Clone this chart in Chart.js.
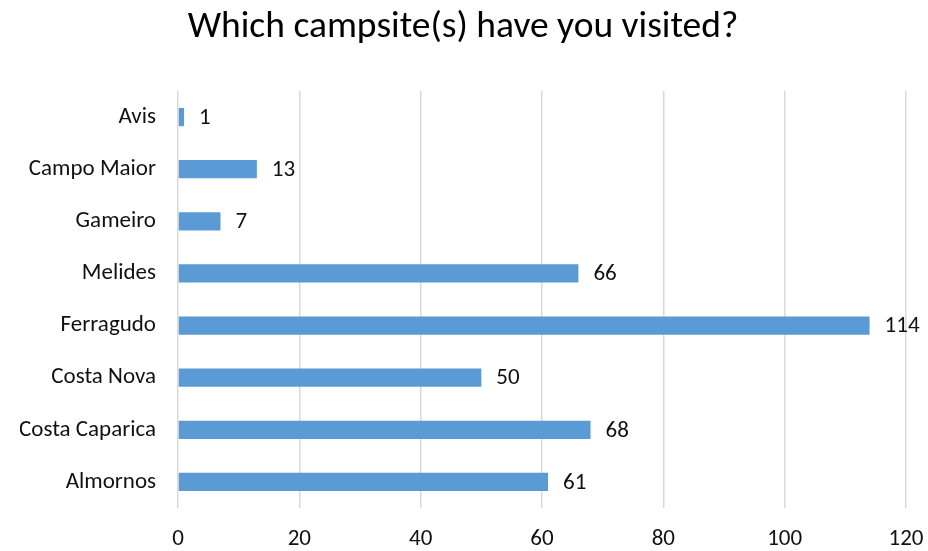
<!DOCTYPE html>
<html>
<head>
<meta charset="utf-8">
<script src="https://cdn.jsdelivr.net/npm/chart.js@4/dist/chart.umd.min.js"></script>
<style>
  html, body { margin: 0; padding: 0; background: #fff; }
  #wrap { width: 928px; height: 551px; }
</style>
</head>
<body>
<div id="wrap"><canvas id="campsites" width="928" height="551"></canvas></div>
<script>
var campsites = ["Avis", "Campo Maior", "Gameiro", "Melides", "Ferragudo", "Costa Nova", "Costa Caparica", "Almornos"];
var visits = [1, 13, 7, 66, 114, 50, 68, 61];
var xTicks = [0, 20, 40, 60, 80, 100, 120];

var fontFamily = "Carlito, Lato, 'Open Sans', sans-serif";

// etiquetas con el valor al final de cada barra
var valueLabels = {
  id: "valueLabels",
  afterDatasetsDraw: function(chart) {
    var ctx = chart.ctx;
    var meta = chart.getDatasetMeta(0);
    ctx.save();
    ctx.font = "23px " + fontFamily;
    ctx.fillStyle = "#111";
    ctx.textAlign = "left";
    ctx.textBaseline = "middle";
    for (var i = 0; i < meta.data.length; i++) {
      var bar = meta.data[i];
      ctx.fillText(visits[i], bar.x + 15, bar.y + 1);
    }
    ctx.restore();
  }
};

var config = {
  type: "bar",
  data: {
    labels: campsites,
    datasets: [{
      data: visits,
      backgroundColor: "#5B9BD5",
      barPercentage: 0.35,
      categoryPercentage: 1.0
    }]
  },
  options: {
    indexAxis: "y",
    responsive: false,
    animation: false,
    layout: { padding: { left: 20, right: 22, top: 0, bottom: 0 } },
    plugins: {
      legend: { display: false },
      tooltip: { enabled: false },
      title: {
        display: true,
        text: "Which campsite(s) have you visited?",
        color: "#000",
        font: { family: fontFamily, size: 37.5, weight: "normal" },
        padding: { top: 5, bottom: 41 }
      }
    },
    scales: {
      x: {
        min: 0,
        max: 120,
        afterBuildTicks: function(scale) {
          scale.ticks = xTicks.map(function(v) { return { value: v }; });
        },
        afterFit: function(scale) {
          scale.height = 43;
          scale.paddingLeft = 0;
          scale.paddingRight = 0;
        },
        grid: { color: "#D9D9D9", lineWidth: 1.5, drawTicks: false },
        border: { display: false },
        ticks: { color: "#111", font: { family: fontFamily, size: 23 }, padding: 17 }
      },
      y: {
        grid: { display: false, drawTicks: false },
        border: { display: false },
        afterFit: function(scale) { scale.width = 158; },
        ticks: { color: "#111", font: { family: fontFamily, size: 23 }, padding: 22 }
      }
    }
  },
  plugins: [valueLabels]
};

var ctx = document.getElementById("campsites");
window.campChart = new Chart(ctx, config);
</script>
</body>
</html>
